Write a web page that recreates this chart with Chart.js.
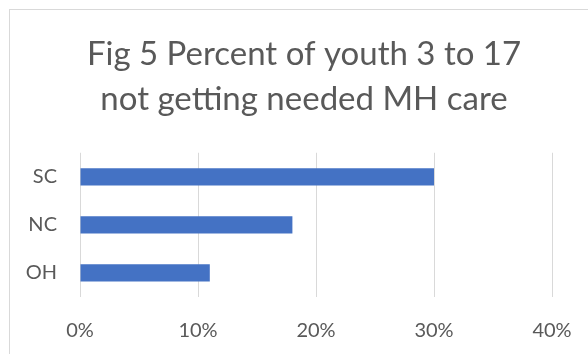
<!DOCTYPE html>
<html>
<head>
<meta charset="utf-8">
<script src="https://cdn.jsdelivr.net/npm/chart.js@4/dist/chart.umd.min.js"></script>
<style>
  body { margin: 0; background: #fff; overflow: hidden; }
  #frame { position: absolute; left: 9px; top: 9px; width: 620px; height: 400px; border: 1px solid #d9d9d9; }
  #chart { position: absolute; left: 0; top: 0; }
</style>
</head>
<body>
<div id="frame"></div>
<!-- the original chart is cut off on the right, so the canvas runs past the window -->
<canvas id="chart" width="608" height="354"></canvas>
<script>
// data
const titleLines = ['Fig 5 Percent of youth 3 to 17', 'not getting needed MH care'];
const states = ['SC', 'NC', 'OH'];
const pctNoCare = [30, 18, 11];
const xTicks = [0, 10, 20, 30, 40];

const textColor = '#595959';
const fontFamily = 'Lato, "Open Sans", sans-serif';

const ctx = document.getElementById('chart').getContext('2d');
new Chart(ctx, {
    type: 'bar',
    data: {
        labels: states,
        datasets: [{
            data: pctNoCare,
            backgroundColor: '#4472c4',
            borderWidth: 0,
            categoryPercentage: 1,
            barPercentage: 0.36
        }]
    },
    options: {
        indexAxis: 'y',
        responsive: false,
        animation: false,
        plugins: {
            legend: { display: false },
            tooltip: { enabled: false },
            title: {
                display: true,
                text: titleLines,
                color: textColor,
                font: { family: fontFamily, size: 33, weight: 'normal', lineHeight: 1.36 },
                padding: { top: 32, bottom: 31 }
            }
        },
        scales: {
            x: {
                min: 0,
                max: 40,
                afterBuildTicks: axis => { axis.ticks = xTicks.map(v => ({ value: v })); },
                afterFit: axis => { axis.height = 354 - 297; },
                border: { display: false },
                grid: { color: '#d9d9d9', lineWidth: 1, drawTicks: false },
                ticks: {
                    color: textColor,
                    padding: 22,
                    font: { family: fontFamily, size: 20 },
                    callback: v => v + '%'
                }
            },
            y: {
                afterFit: axis => { axis.width = 80; },
                border: { display: false },
                grid: { display: false, drawTicks: false },
                ticks: {
                    color: textColor,
                    padding: 23,
                    font: { family: fontFamily, size: 20 }
                }
            },
            // empty right-hand margin so the plot stops at 40% while the title stays centred on the whole chart
            yRight: {
                type: 'linear',
                position: 'right',
                afterFit: axis => { axis.width = 56; },
                border: { display: false },
                grid: { display: false, drawTicks: false },
                ticks: { display: false }
            }
        }
    }
});
</script>
</body>
</html>
